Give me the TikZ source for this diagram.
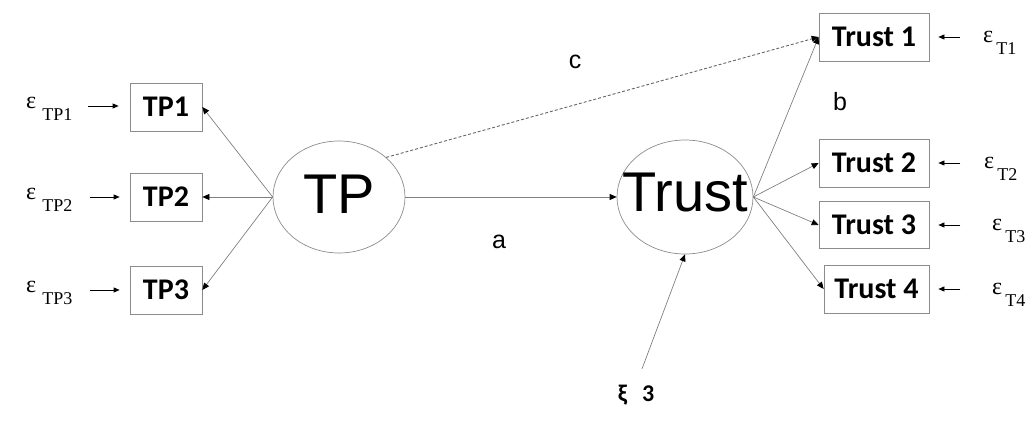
\documentclass[tikz,border=0pt]{standalone}
\usepackage{fontspec}
\setmainfont{Liberation Serif}
\newfontfamily\arialf{Liberation Sans}
\newfontfamily\calf{Carlito}
\usetikzlibrary{arrows.meta,shapes.geometric,calc}
% error term: epsilon followed by a lowered index, #1 = gap, #2 = index
\newcommand{\errterm}[2]{ε\hspace{#1}\raisebox{-12pt}{\fontsize{18}{18}\selectfont #2}}

\begin{document}
\begin{tikzpicture}[x=1pt,y=-1pt,
  path/.style={draw=black!50, line width=0.7pt, -{Triangle[length=7pt,width=6pt,black]}},
  errarrow/.style={draw=black, line width=0.7pt, -{Triangle[length=6pt,width=5pt,black]}},
  obs/.style={draw=black!45, line width=0.7pt, minimum height=48pt, inner sep=0pt,
    font=\calf\bfseries\fontsize{30}{30}\selectfont},
  lat/.style={ellipse, draw=black!45, line width=0.7pt, inner sep=0pt},
  latlbl/.style={inner sep=0pt, font=\arialf\fontsize{56}{56}\selectfont},
  coef/.style={inner sep=0pt, font=\arialf\fontsize{25}{25}\selectfont},
  errlbl/.style={inner sep=0pt, anchor=base west, font=\fontsize{24}{24}\selectfont},
]
\useasboundingbox (0,0) rectangle (1031,427);

% latent variables
\node[lat, minimum width=132pt, minimum height=112pt] (tp) at (339,197) {};
\node[latlbl] (tplbl) at (339,194) {TP};
\node[lat, minimum width=136pt, minimum height=114pt] (trust) at (685,197) {};
\node[latlbl] (trustlbl) at (685,193) {Trust};

% indicators of TP
\node[obs, minimum width=72pt] (tp1) at (166,107) {TP1};
\node[obs, minimum width=72pt] (tp2) at (166,197) {TP2};
\node[obs, minimum width=72pt] (tp3) at (166,290) {TP3};

% indicators of Trust
\node[obs, minimum width=110pt] (t1) at (874,37) {Trust 1};
\node[obs, minimum width=110pt] (t2) at (874,163) {Trust 2};
\node[obs, minimum width=110pt, minimum height=47pt] (t3) at (874,225) {Trust 3};
\node[obs, minimum width=105pt] (t4) at (876.5,289) {Trust 4};

% measurement errors
\node[errlbl] (etp1) at (26,109) {\errterm{6pt}{TP1}};
\node[errlbl] (etp2) at (26,200) {\errterm{6pt}{TP2}};
\node[errlbl] (etp3) at (26,293) {\errterm{6pt}{TP3}};
\node[errlbl] (et1) at (983,43) {\errterm{3pt}{T1}};
\node[errlbl] (et2) at (984,169) {\errterm{3pt}{T2}};
\node[errlbl] (et3) at (992,231) {\errterm{3pt}{T3}};
\node[errlbl] (et4) at (992,295) {\errterm{3pt}{T4}};

% disturbance of Trust
\node[inner sep=0pt, font=\calf\bfseries\fontsize{24}{24}\selectfont] (xi) at (636,395) {ξ\hspace{15pt}3};

% path coefficients
\node[coef] (la) at (499,242) {a};
\node[coef] (lb) at (840,102) {b};
\node[coef] (lc) at (575,62) {c};

% loadings
\draw[path] (tp.west) -- (tp1.east);
\draw[path] (tp.west) -- (tp2.east);
\draw[path] (tp.west) -- (tp3.east);
\draw[path] (trust.east) -- (t1.west);
\draw[path] (trust.east) -- (t2.west);
\draw[path] (trust.east) -- (t3.west);
\draw[path] (trust.east) -- (t4.west);

% structural paths
\draw[path] (tp.east) -- (trust.west);
\draw[path, draw=black!60, line width=0.9pt, dash pattern=on 3pt off 2pt] (tp.40) -- (t1.west);
\draw[path, shorten <=17pt] (xi.north) -- (trust.south);

% error arrows
\draw[errarrow] ($(tp1.west)+(-42,-1)$) -- ($(tp1.west)+(-11,-1)$);
\draw[errarrow] ($(tp2.west)+(-40,0)$) -- ($(tp2.west)+(-10,0)$);
\draw[errarrow] ($(tp3.west)+(-40,0)$) -- ($(tp3.west)+(-10,0)$);
\draw[errarrow] ($(t1.east)+(31,0)$) -- ($(t1.east)+(9,0)$);
\draw[errarrow] ($(t2.east)+(31,0)$) -- ($(t2.east)+(9,0)$);
\draw[errarrow] ($(t3.east)+(31,0)$) -- ($(t3.east)+(9,0)$);
\draw[errarrow] ($(t4.east)+(31,0)$) -- ($(t4.east)+(9,0)$);
\end{tikzpicture}
\end{document}
